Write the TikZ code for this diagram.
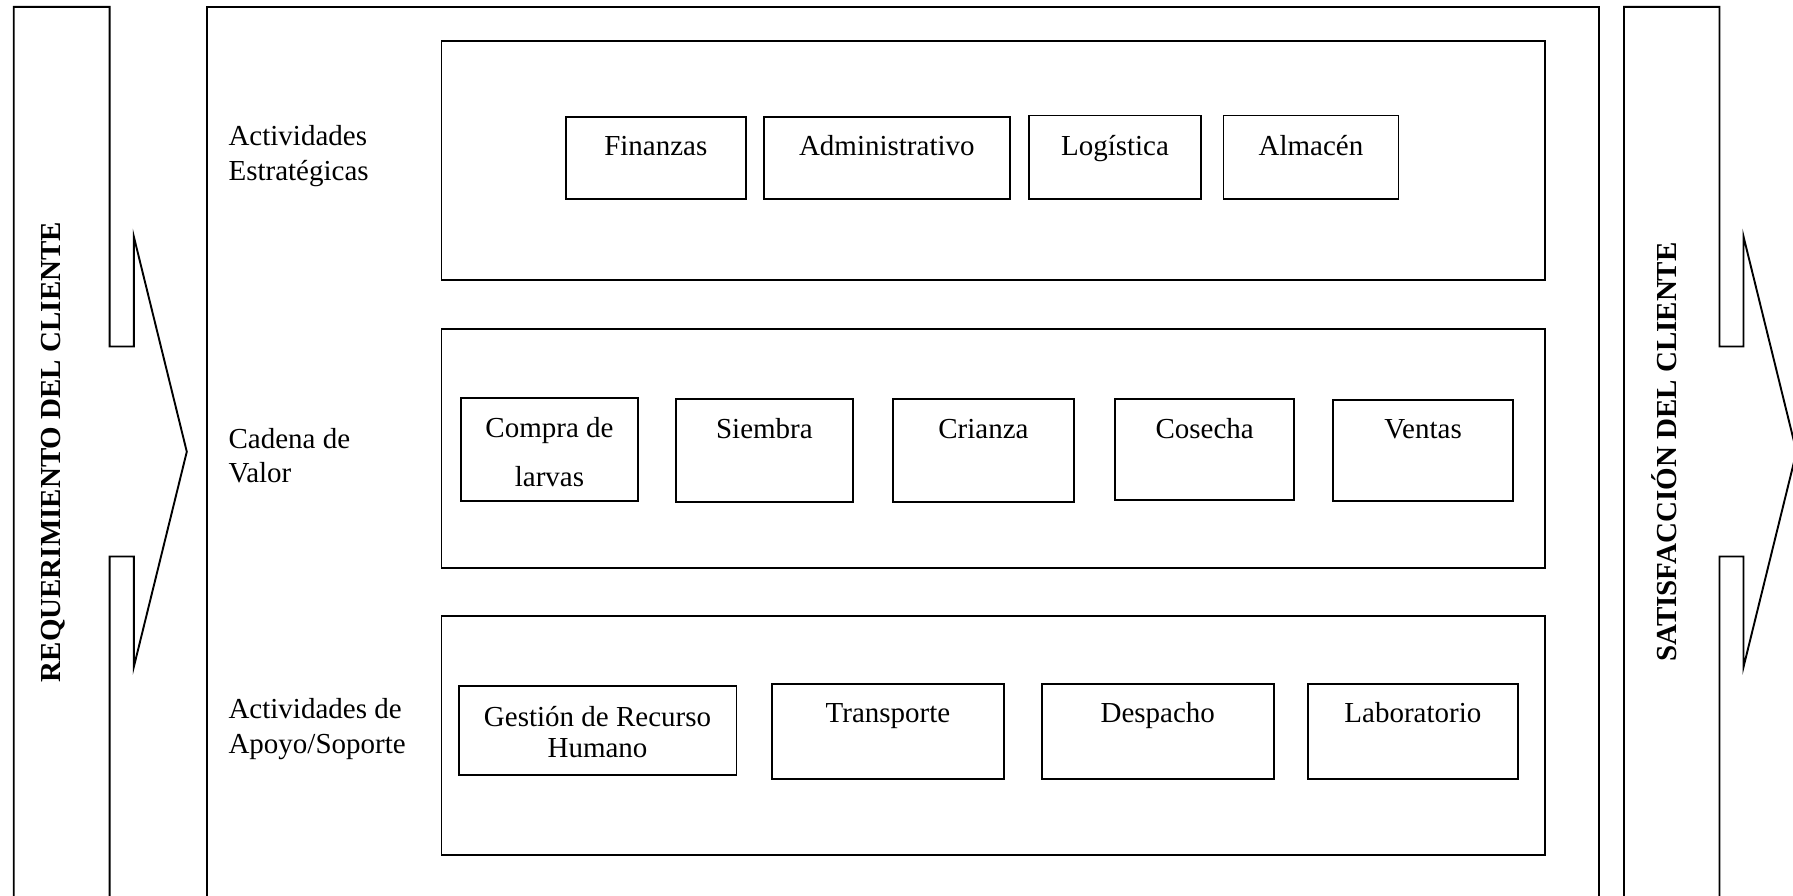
\documentclass[tikz,border=0pt]{standalone}
\usepackage{fontspec}
\setmainfont{Liberation Serif}
\begin{document}
\begin{tikzpicture}[x=1pt,y=-1pt,line width=1.9pt,
  txt/.style={font=\fontsize{29}{33}\selectfont,inner sep=0pt,anchor=base},
  rowtxt/.style={txt,anchor=base west},
  sidetxt/.style={font=\fontsize{29}{33}\selectfont\bfseries,inner sep=0pt,rotate=90},
  panel/.style={draw,minimum width=1103.5pt,minimum height=239pt,inner sep=0pt},
  actbox/.style={draw,inner sep=0pt}]
\useasboundingbox (0,0) rectangle (1793,895);
\clip (0,0) rectangle (1793,895);

% entry arrow: customer requirement
\draw (13.7,905) -- (13.7,6.9) -- (109.6,6.9) -- (109.6,346.5) -- (133.8,346.5)
  -- (133.8,236.5) -- (186.8,451.7) -- (133.8,667) -- (133.8,556.5)
  -- (109.6,556.5) -- (109.6,905);
\node[sidetxt] (req) at (53.7,452) {REQUERIMIENTO DEL CLIENTE};

% exit arrow: customer satisfaction
\draw (1624,905) -- (1624,6.9) -- (1719.5,6.9) -- (1719.5,346.5) -- (1743.5,346.5)
  -- (1743.5,236.5) -- (1796.5,451.7) -- (1743.5,667) -- (1743.5,556.5)
  -- (1719.5,556.5) -- (1719.5,905);
\node[sidetxt] (sat) at (1664,452) {SATISFACCIÓN DEL CLIENTE};

% central frame
\draw (207,905) -- (207,6.9) -- (1598.6,6.9) -- (1598.6,905);

% row labels
\node[rowtxt] (l1a) at (227.6,145.7) {Actividades};
\node[rowtxt] (l1b) at (227.6,180) {Estratégicas};
\node[rowtxt] (l2a) at (227.6,448.8) {Cadena de};
\node[rowtxt] (l2b) at (227.6,482) {Valor};
\node[rowtxt] (l3a) at (227.6,718.6) {Actividades de};
\node[rowtxt] (l3b) at (227.6,753) {Apoyo/Soporte};

% panels
\node[panel] (p1) at (993.2,160.7) {};
\node[panel] (p2) at (993.2,448.8) {};
\node[panel] (p3) at (993.2,735.8) {};

% strategic activities
\node[actbox,minimum width=179.6pt,minimum height=82.4pt] (fin) at (655.8,157.8) {};
\node[txt] (fin-t) at (655.8,155) {Finanzas};
\node[actbox,minimum width=245.8pt,minimum height=82.4pt] (adm) at (886.8,157.8) {};
\node[txt] (adm-t) at (886.8,155) {Administrativo};
\node[actbox,minimum width=171.5pt,minimum height=83.5pt] (log) at (1115,157.2) {};
\node[txt] (log-t) at (1115,155) {Logística};
\node[actbox,minimum width=175pt,minimum height=83.5pt] (alm) at (1311,157.2) {};
\node[txt] (alm-t) at (1311,155) {Almacén};

% value chain
\node[actbox,minimum width=177.3pt,minimum height=102.9pt] (com) at (549.5,449.4) {};
\node[txt] (com-a) at (549.5,437.4) {Compra de};
\node[txt] (com-b) at (549.5,486.6) {larvas};
\node[actbox,minimum width=177.2pt,minimum height=103pt] (sie) at (764.4,450.5) {};
\node[txt] (sie-t) at (764.4,438.6) {Siembra};
\node[actbox,minimum width=180.7pt,minimum height=103pt] (cri) at (983.4,450.5) {};
\node[txt] (cri-t) at (983.4,438.6) {Crianza};
\node[actbox,minimum width=179.4pt,minimum height=100.7pt] (cos) at (1204.7,449.4) {};
\node[txt] (cos-t) at (1204.7,438.6) {Cosecha};
\node[actbox,minimum width=179.6pt,minimum height=100.8pt] (ven) at (1423.1,450.4) {};
\node[txt] (ven-t) at (1423.1,438.6) {Ventas};

% support activities
\node[actbox,minimum width=277.9pt,minimum height=89.3pt] (ges) at (597.5,730.7) {};
\node[txt] (ges-a) at (597.5,726.7) {Gestión de Recurso};
\node[txt] (ges-b) at (597.5,757.3) {Humano};
\node[actbox,minimum width=232.1pt,minimum height=94.9pt] (tra) at (888,731.3) {};
\node[txt] (tra-t) at (888,722) {Transporte};
\node[actbox,minimum width=232.2pt,minimum height=94.9pt] (des) at (1157.8,731.3) {};
\node[txt] (des-t) at (1157.8,722) {Despacho};
\node[actbox,minimum width=209.3pt,minimum height=94.9pt] (lab) at (1412.9,731.3) {};
\node[txt] (lab-t) at (1412.9,722) {Laboratorio};
\end{tikzpicture}
\end{document}
